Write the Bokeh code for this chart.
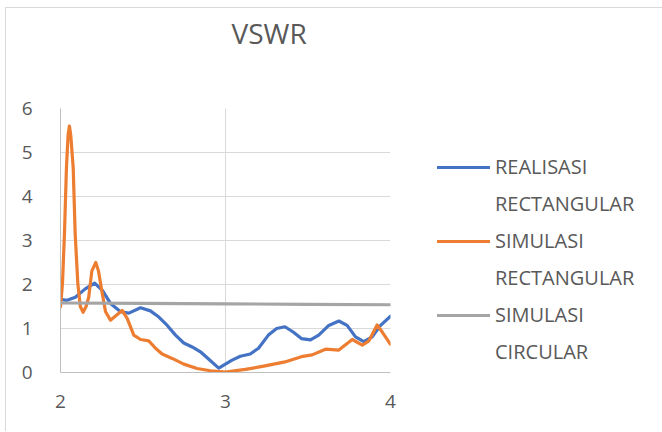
from bokeh.plotting import figure
from bokeh.models import Legend, LegendItem, Title, Range1d, FixedTicker
from bokeh.embed import file_html
from bokeh.resources import INLINE

# ---- data ----
title_text = "VSWR"
x_ticks = [2, 3, 4]
y_ticks = [0, 1, 2, 3, 4, 5, 6]

real_rect_x = [2.00, 2.04, 2.09, 2.15, 2.207, 2.253, 2.303, 2.364, 2.414, 2.485,
               2.545, 2.596, 2.647, 2.697, 2.747, 2.798, 2.848, 2.899, 2.959, 3.04,
               3.09, 3.15, 3.20, 3.26, 3.31, 3.36, 3.41, 3.46, 3.515, 3.565,
               3.626, 3.687, 3.737, 3.788, 3.838, 3.889, 3.94, 4.00]
real_rect_y = [1.66, 1.64, 1.71, 1.90, 2.03, 1.87, 1.57, 1.38, 1.35, 1.47,
               1.40, 1.26, 1.07, 0.85, 0.67, 0.58, 0.47, 0.30, 0.10, 0.28,
               0.37, 0.42, 0.55, 0.85, 1.00, 1.04, 0.92, 0.77, 0.74, 0.85,
               1.07, 1.17, 1.07, 0.81, 0.70, 0.81, 1.07, 1.28]

sim_rect_x = [2.00, 2.012, 2.024, 2.036, 2.046, 2.054, 2.062, 2.077, 2.089, 2.105,
              2.12, 2.137, 2.155, 2.171, 2.19, 2.214, 2.23, 2.253, 2.273, 2.303,
              2.339, 2.374, 2.404, 2.444, 2.485, 2.535, 2.576, 2.616, 2.677, 2.747,
              2.828, 2.909, 3.00, 3.12, 3.24, 3.36, 3.46, 3.525, 3.606, 3.687,
              3.768, 3.829, 3.869, 3.919, 3.95, 4.00]
sim_rect_y = [1.49, 2.02, 3.15, 4.65, 5.40, 5.60, 5.40, 4.65, 3.15, 2.02,
              1.50, 1.37, 1.50, 1.71, 2.31, 2.50, 2.31, 1.80, 1.38, 1.19,
              1.30, 1.41, 1.23, 0.85, 0.75, 0.72, 0.55, 0.42, 0.32, 0.19,
              0.09, 0.04, 0.01, 0.07, 0.15, 0.24, 0.36, 0.40, 0.53, 0.51,
              0.75, 0.62, 0.72, 1.08, 0.92, 0.64]

sim_circ_x = [2.0, 2.5, 3.0, 3.5, 4.0]
sim_circ_y = [1.58, 1.57, 1.56, 1.55, 1.54]

# legend names, as two text lines each
series_line1 = ["REALISASI", "SIMULASI", "SIMULASI"]
series_line2 = ["RECTANGULAR", "RECTANGULAR", "CIRCULAR"]
series_colors = ["#4472C4", "#ED7D31", "#A5A5A5"]

FONT = "Open Sans"
TXT = "#595959"

p = figure(frame_width=330, frame_height=264,
           min_border_left=54, min_border_top=100,
           min_border_right=271, min_border_bottom=59,
           x_range=Range1d(2, 4), y_range=Range1d(0, 6),
           output_backend="svg", toolbar_location=None, title=None)
p.styles = {"margin-left": "5px", "margin-top": "7px",
            "border-left": "1px solid #d9d9d9", "border-top": "1px solid #d9d9d9"}
p.outline_line_color = None
p.background_fill_color = "white"
p.border_fill_color = "white"

p.xaxis.ticker = FixedTicker(ticks=x_ticks)
p.yaxis.ticker = FixedTicker(ticks=y_ticks)
p.xgrid.ticker = FixedTicker(ticks=x_ticks)
p.ygrid.ticker = FixedTicker(ticks=y_ticks)
p.grid.grid_line_color = "#D9D9D9"
p.grid.grid_line_width = 1
for ax in (p.xaxis, p.yaxis):
    ax.axis_line_color = "#BFBFBF"
    ax.axis_line_width = 1
    ax.major_tick_line_color = None
    ax.minor_tick_line_color = None
    ax.major_label_text_font = FONT
    ax.major_label_text_font_size = "19px"
    ax.major_label_text_color = TXT
p.xaxis.major_label_standoff = 16
p.yaxis.major_label_standoff = 22

r1 = p.line(real_rect_x, real_rect_y, line_color=series_colors[0], line_width=3.2, line_join="round", line_cap="round")
r2 = p.line(sim_rect_x, sim_rect_y, line_color=series_colors[1], line_width=3.2, line_join="round", line_cap="round")
r3 = p.line(sim_circ_x, sim_circ_y, line_color=series_colors[2], line_width=3.2, line_join="round", line_cap="round")
# invisible renderer: the second text line of each legend entry has no line sample
blank = p.line(x=[], y=[], line_alpha=0)

items = []
for i, r in enumerate([r1, r2, r3]):
    items.append(LegendItem(label=series_line1[i], renderers=[r]))
    items.append(LegendItem(label=series_line2[i], renderers=[blank]))

legend = Legend(items=items, location=(47, 7), orientation="vertical",
                glyph_width=53, glyph_height=20, label_height=20,
                label_text_font=FONT, label_text_font_size="20px",
                label_text_color=TXT,
                label_standoff=5, spacing=10, padding=0, margin=0,
                border_line_color=None, background_fill_alpha=0)
p.add_layout(legend, "right")

title = Title(text=title_text, align="left", offset=171, vertical_align="top", standoff=8,
              text_font=FONT, text_font_size="28px", text_font_style="normal",
              text_color=TXT)
spacer = Title(text=" ", align="left", vertical_align="top", standoff=48,
               text_font=FONT, text_font_size="1px", text_color="white")
p.add_layout(spacer, "above")
p.add_layout(title, "above")

open("out.html", "w").write(file_html(p, INLINE))
